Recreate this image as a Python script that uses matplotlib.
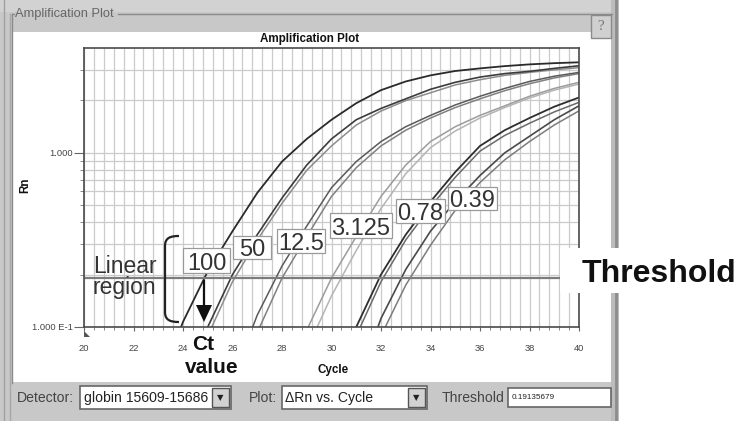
import matplotlib
matplotlib.use('Agg')
import matplotlib.pyplot as plt
from matplotlib import font_manager
from matplotlib.patches import Rectangle, Polygon, PathPatch
from matplotlib.path import Path
from matplotlib.ticker import MultipleLocator, FixedLocator, NullFormatter, FixedFormatter


def has_font(name):
    try:
        font_manager.findfont(font_manager.FontProperties(family=name), fallback_to_default=False)
        return True
    except Exception:
        return False


HAS_NARROW = has_font('Liberation Sans Narrow')
NARROW = (['Liberation Sans Narrow'] if HAS_NARROW else []) + ['Liberation Sans', 'DejaVu Sans']
SANS = ['Liberation Sans', 'DejaVu Sans']
plt.rcParams['font.family'] = NARROW


def fs(size):
    return size if HAS_NARROW else size * 0.84


# ---------------- data ----------------
cycles = list(range(20, 41))
rn_100 = [0.005, 0.008, 0.018, 0.045, 0.107, 0.209, 0.355, 0.589, 0.891, 1.202, 1.549,
          1.928, 2.291, 2.570, 2.786, 2.951, 3.055, 3.148, 3.221, 3.273, 3.311]
rn_50a = [0.005, 0.006, 0.010, 0.022, 0.047, 0.100, 0.200, 0.339, 0.550, 0.851, 1.202,
          1.549, 1.799, 2.042, 2.317, 2.541, 2.723, 2.851, 2.938, 3.055, 3.162]
rn_50b = [0.004, 0.005, 0.008, 0.018, 0.040, 0.089, 0.182, 0.316, 0.513, 0.794, 1.096,
          1.445, 1.738, 1.995, 2.213, 2.455, 2.630, 2.786, 2.897, 2.999, 3.083]
rn_12a = [0.004, 0.005, 0.006, 0.008, 0.012, 0.022, 0.050, 0.117, 0.224, 0.380, 0.631,
          0.891, 1.161, 1.413, 1.641, 1.884, 2.113, 2.344, 2.570, 2.754, 2.897]
rn_12b = [0.004, 0.004, 0.005, 0.007, 0.010, 0.018, 0.036, 0.093, 0.191, 0.331, 0.562,
          0.822, 1.096, 1.349, 1.585, 1.820, 2.042, 2.275, 2.495, 2.692, 2.851]
rn_3a = [0.004, 0.004, 0.005, 0.005, 0.006, 0.008, 0.012, 0.022, 0.045, 0.096, 0.191,
         0.331, 0.562, 0.851, 1.161, 1.413, 1.641, 1.862, 2.113, 2.344, 2.541]
rn_3b = [0.004, 0.004, 0.004, 0.005, 0.005, 0.007, 0.010, 0.017, 0.032, 0.074, 0.151,
         0.275, 0.479, 0.759, 1.072, 1.334, 1.585, 1.820, 2.065, 2.291, 2.483]
rn_078a = [0.004, 0.004, 0.004, 0.004, 0.005, 0.005, 0.006, 0.008, 0.012, 0.021, 0.042,
           0.100, 0.200, 0.339, 0.525, 0.776, 1.096, 1.349, 1.585, 1.841, 2.080]
rn_078b = [0.004, 0.004, 0.004, 0.004, 0.004, 0.005, 0.006, 0.007, 0.010, 0.018, 0.036,
           0.089, 0.182, 0.316, 0.490, 0.724, 1.023, 1.259, 1.479, 1.718, 1.950]
rn_039a = [0.004, 0.004, 0.004, 0.004, 0.004, 0.005, 0.005, 0.006, 0.008, 0.012, 0.022,
           0.045, 0.112, 0.214, 0.355, 0.525, 0.741, 1.000, 1.245, 1.549, 1.862]
rn_039b = [0.004, 0.004, 0.004, 0.004, 0.004, 0.004, 0.005, 0.006, 0.007, 0.010, 0.017,
           0.032, 0.089, 0.174, 0.295, 0.468, 0.676, 0.912, 1.161, 1.445, 1.742]
threshold = 0.19135679
x_ticks = [20, 22, 24, 26, 28, 30, 32, 34, 36, 38, 40]
y_ticks = [0.1, 1.0]
y_tick_labels = ['1.000 E-1', '1.000']
y_minor = [0.2, 0.3, 0.4, 0.5, 0.6, 0.7, 0.8, 0.9, 2.0, 3.0]
dilution_labels = ['100', '50', '12.5', '3.125', '0.78', '0.39']

# ---------------- styles ----------------
series = [
    (rn_3b, '#b4b4b4', 1.1), (rn_3a, '#9c9c9c', 1.1),
    (rn_12b, '#808080', 1.1), (rn_12a, '#5a5a5a', 1.1),
    (rn_50b, '#8c8c8c', 1.1), (rn_50a, '#3c3c3c', 1.2),
    (rn_039b, '#7c7c7c', 1.1), (rn_039a, '#4a4a4a', 1.2),
    (rn_078b, '#6a6a6a', 1.1), (rn_078a, '#2e2e2e', 1.3),
    (rn_100, '#2a2a2a', 1.3),
]
label_boxes = [(183, 248, 230, 273), (233, 236, 271, 259), (277, 229, 325, 253),
               (330, 213, 392, 238), (396, 199, 445, 223), (448, 187, 497, 210)]

W, H = 740, 421
fig = plt.figure(figsize=(7.4, 4.21), dpi=100)
fig.patch.set_facecolor('white')


def fax(z):
    a = fig.add_axes([0, 0, 1, 1], zorder=z)
    a.set_xlim(0, W)
    a.set_ylim(H, 0)
    a.axis('off')
    a.patch.set_visible(False)
    return a


# ---------------- window background ----------------
bg = fax(-5)
bg.add_patch(Rectangle((0, 0), 619, H, fc='#c8c8c8', ec='none'))
bg.add_patch(Rectangle((0, 0), 619, 12, fc='#d2d2d2', ec='none'))
bg.add_patch(Rectangle((13, 32), 598, 350, fc='white', ec='none'))
bg.plot([12, 14], [14, 14], color='#8a8a8a', lw=1)
bg.plot([118, 612], [14, 14], color='#8a8a8a', lw=1)
bg.plot([12, 12], [14, 383], color='#8a8a8a', lw=1)
bg.plot([4, 4], [0, H], color='#a0a0a0', lw=1)
bg.plot([10, 10], [14, H], color='#a8a8a8', lw=1)
bg.add_patch(Rectangle((611, 0), 8, H, fc='#bcbcbc', ec='none'))
bg.plot([616, 616], [0, H], color='#8c8c8c', lw=2)
bg.text(15, 14, 'Amplification Plot', ha='left', va='center', fontsize=fs(11), color='#666666')
bg.add_patch(Rectangle((591, 15), 20, 23, fc='#d0d0d0', ec='#8a8a8a', lw=1))
bg.text(601, 27, '?', ha='center', va='center', fontsize=11, color='#777777',
        family=['Liberation Serif', 'DejaVu Serif'])

# bottom control bar
bg.text(17, 398, 'Detector:', ha='left', va='center', fontsize=fs(12), color='#444444')
bg.add_patch(Rectangle((80, 386), 151, 23, fc='white', ec='#666666', lw=1.2))
bg.text(84, 398, 'globin 15609-15686', ha='left', va='center', fontsize=fs(12), color='#222222')
bg.add_patch(Rectangle((212, 388), 17, 19, fc='#d2d2d2', ec='#555555', lw=1))
bg.text(220.5, 397.5, '\u25bc', ha='center', va='center', fontsize=6, color='#222222',
        family=['DejaVu Sans'])
bg.text(249, 398, 'Plot:', ha='left', va='center', fontsize=fs(12), color='#444444')
bg.add_patch(Rectangle((282, 386), 145, 23, fc='white', ec='#666666', lw=1.2))
bg.text(285, 398, '\u0394Rn vs. Cycle', ha='left', va='center', fontsize=fs(12), color='#222222')
bg.add_patch(Rectangle((408, 388), 17, 19, fc='#d2d2d2', ec='#555555', lw=1))
bg.text(416.5, 397.5, '\u25bc', ha='center', va='center', fontsize=6, color='#222222',
        family=['DejaVu Sans'])
bg.text(442, 398, 'Threshold', ha='left', va='center', fontsize=fs(12), color='#444444')
bg.add_patch(Rectangle((508, 388), 103, 19, fc='white', ec='#666666', lw=1.2))
bg.text(512, 397.5, '0.19135679', ha='left', va='center', fontsize=fs(7), color='#222222')

# ---------------- main plot ----------------
AX_L, AX_R, AX_T, AX_B = 84, 579, 48, 327
ax = fig.add_axes([AX_L / W, 1 - AX_B / H, (AX_R - AX_L) / W, (AX_B - AX_T) / H], zorder=0)
ax.set_facecolor('white')
ax.set_yscale('log')
ax.set_xlim(20, 40)
ax.set_ylim(0.1, 4.0)
ax.xaxis.set_major_locator(FixedLocator(x_ticks))
ax.xaxis.set_minor_locator(MultipleLocator(0.4))
ax.yaxis.set_major_locator(FixedLocator(y_ticks))
ax.yaxis.set_major_formatter(FixedFormatter(y_tick_labels))
ax.yaxis.set_minor_locator(FixedLocator(y_minor))
ax.yaxis.set_minor_formatter(NullFormatter())
ax.grid(which='both', color='#cbcbcb', lw=0.9)
ax.set_axisbelow(True)

for vals, col, lw in series:
    ax.plot(cycles, vals, color=col, lw=lw, solid_joinstyle='round')
ax.axhline(threshold, color='#7c7c7c', lw=1.6)

for sp in ax.spines.values():
    sp.set_color('#4a4a4a')
    sp.set_linewidth(1.2)
ax.tick_params(axis='x', which='major', length=3, width=0.8, color='#666666', pad=9,
               labelsize=fs(8), labelcolor='#444444')
ax.tick_params(axis='x', which='minor', length=2.5, width=0.7, color='#888888')
ax.tick_params(axis='y', which='major', length=7, width=0.8, color='#666666', pad=1,
               labelsize=fs(8), labelcolor='#444444')
ax.tick_params(axis='y', which='minor', length=3, width=0.7, color='#888888')

# ---------------- overlay annotations ----------------
ov = fax(5)
ov.text(310, 39, 'Amplification Plot', ha='center', va='center', fontsize=fs(10),
        fontweight='bold', color='#111111')
ov.text(25, 185, 'Rn', ha='center', va='center', rotation=90, fontsize=fs(10),
        fontweight='bold', color='#111111')
ov.text(333, 370, 'Cycle', ha='center', va='center', fontsize=fs(10), fontweight='bold',
        color='#111111')
ov.add_patch(Polygon([(84, 331), (84, 337), (90, 337)], closed=True, fc='#555555', ec='none'))

for lab, (x0, y0, x1, y1) in zip(dilution_labels, label_boxes):
    ov.add_patch(Rectangle((x0, y0), x1 - x0, y1 - y0, fc='white', ec='#9a9a9a', lw=0.9))
    ov.text((x0 + x1) / 2, y1 - 3, lab, ha='center', va='baseline', fontsize=17,
            family=SANS, color='#333333')

ov.text(93, 273, 'Linear', ha='left', va='baseline', fontsize=16.5, family=SANS, color='#333333')
ov.text(93, 294, 'region', ha='left', va='baseline', fontsize=16.5, family=SANS, color='#333333')
brace = Path([(179, 236), (170, 236), (165, 238), (165, 246), (165, 312),
              (165, 320), (170, 322), (179, 322)],
             [Path.MOVETO, Path.CURVE4, Path.CURVE4, Path.CURVE4, Path.LINETO,
              Path.CURVE4, Path.CURVE4, Path.CURVE4])
ov.add_patch(PathPatch(brace, fc='none', ec='#222222', lw=1.6))

ov.plot([204, 204], [281, 307], color='#111111', lw=1.6)
ov.add_patch(Polygon([(196, 305), (212, 305), (204, 322)], closed=True, fc='#111111', ec='none'))
ov.text(203, 350, 'Ct', ha='center', va='baseline', fontsize=15, fontweight='bold',
        family=SANS, color='#111111')
ov.text(212, 373, 'value', ha='center', va='baseline', fontsize=15, fontweight='bold',
        family=SANS, color='#111111')

ov.add_patch(Rectangle((560, 248), 180, 45, fc='white', ec='none'))
ov.text(582, 282, 'Threshold', ha='left', va='baseline', fontsize=23, fontweight='bold',
        family=SANS, color='#111111')

fig.savefig('out.png', dpi=100, facecolor='white')
